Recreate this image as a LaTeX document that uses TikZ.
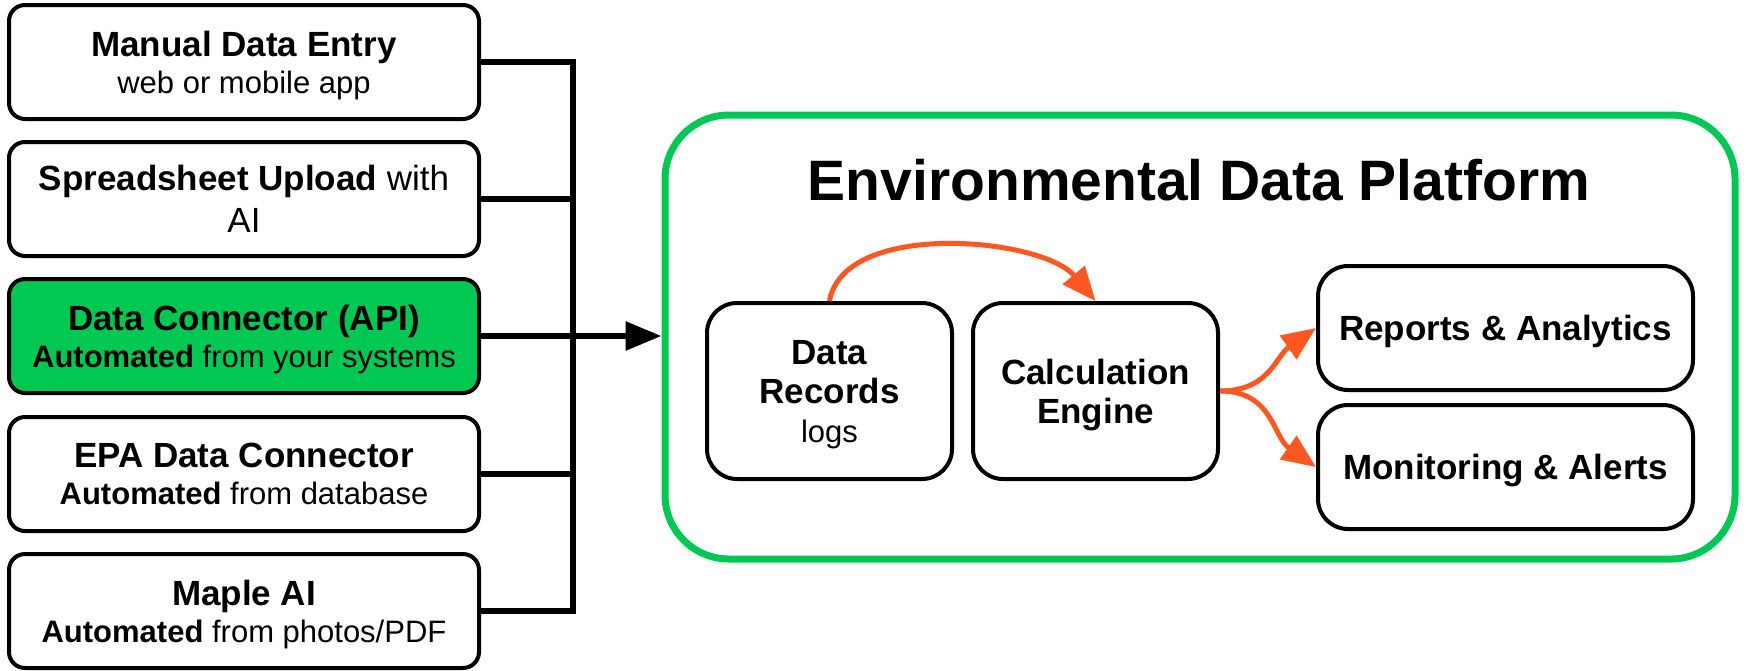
\documentclass[tikz,border=0pt]{standalone}
\usepackage{fontspec}
\setmainfont{Liberation Sans}
\usepackage{xcolor}
\usetikzlibrary{arrows.meta, positioning, calc}
\definecolor{platgreen}{HTML}{00C853}
\definecolor{floworange}{HTML}{FF5722}
\newcommand{\boxtitle}[1]{{\fontsize{17.5}{18.5}\selectfont\bfseries #1}}

\begin{document}
\begin{tikzpicture}[x=0.5pt, y=-0.5pt,
  src/.style={draw, line width=2pt, rounded corners=8pt, fill=white,
    minimum width=235pt, minimum height=57pt, inner sep=0pt, align=center,
    text depth=0pt, font=\fontsize{15.5}{18.5}\selectfont},
  inbox/.style={draw, line width=2pt, rounded corners=15pt, fill=white,
    minimum width=122.5pt, minimum height=88pt, inner sep=0pt, align=center,
    text depth=0pt, font=\fontsize{17.5}{19.5}\selectfont\bfseries},
  outbox/.style={inbox, minimum width=187.5pt, minimum height=62pt},
  plat/.style={draw=platgreen, line width=3.5pt, rounded corners=32pt,
    minimum width=535pt, minimum height=222pt},
  busline/.style={line width=3pt},
  feed/.style={line width=3pt, -{Triangle[length=18pt, width=14pt]}},
  flow/.style={draw=floworange, line width=2.5pt,
    -{Triangle[length=17pt, width=14pt, fill=floworange]}}]
\useasboundingbox (0,0) rectangle (1746,670);

% data sources
\node[src] (manual) at (244,62) {\boxtitle{Manual Data Entry}\\web or mobile app};
\node[src, font=\fontsize{17.5}{21}\selectfont] (sheet) at (244,199) {\textbf{Spreadsheet Upload} with\\AI};
\node[src, fill=platgreen] (api) at (244,336) {\boxtitle{Data Connector (API)}\\\textbf{Automated} from your systems};
\node[src] (epa) at (244,474) {\boxtitle{EPA Data Connector}\\\textbf{Automated} from database};
\node[src] (maple) at (244,611) {\boxtitle{Maple AI}\\\textbf{Automated} from photos/PDF};

% collecting bus
\coordinate (bus) at (573,0);
\draw[busline] (manual.east) -| (bus |- maple.east) -- (maple.east);
\foreach \s in {sheet,api,epa}
  \draw[busline] (\s.east) -- (\s.east -| bus);

% platform
\node[plat] (platform) at (1200,337) {};
\node[font=\fontsize{28.5}{34}\selectfont\bfseries] (ptitle) at (1199,180) {Environmental Data Platform};
\draw[feed] (api.east) -- (api.east -| platform.west);

\node[inbox] (records) at (829.5,391) {Data\\Records\\{\mdseries\fontsize{15.5}{19.5}\selectfont logs}};
\node[inbox] (engine) at (1095.5,391) {Calculation\\Engine};
\node[outbox] (reports) at (1505.5,328) {Reports \& Analytics};
\node[outbox] (alerts) at (1505.5,467) {Monitoring \& Alerts};

\draw[flow] (records.north) to[out=80, in=130, looseness=0.8] (engine.north);
\draw[flow] (engine.east) to[out=0, in=215, looseness=1.1] (reports.west);
\draw[flow] (engine.east) to[out=0, in=145, looseness=1.1] (alerts.west);
\end{tikzpicture}
\end{document}
